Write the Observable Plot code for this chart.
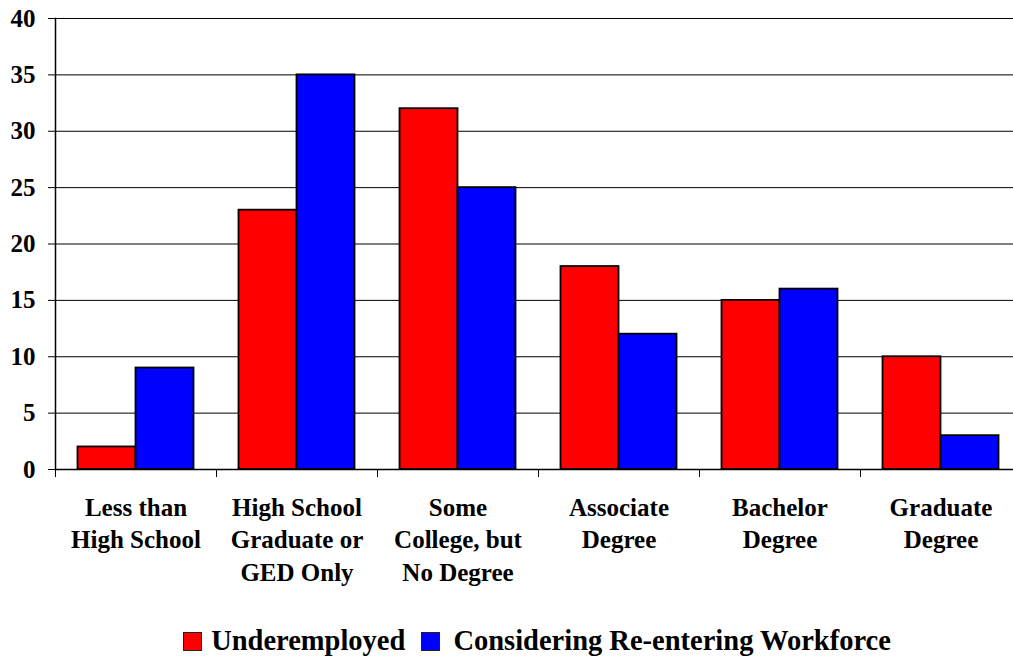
<!DOCTYPE html>
<html>
<head>
<meta charset="utf-8">
<script src="https://cdn.jsdelivr.net/npm/d3@7"></script>
<script src="https://cdn.jsdelivr.net/npm/@observablehq/plot@0.6"></script>
<style>
  html, body { margin: 0; padding: 0; background: #fff; }
  #chart { width: 1013px; height: 657px; overflow: hidden; position: relative; }
  .legend {
    display: flex; align-items: center; justify-content: center;
    width: 1013px; box-sizing: border-box; padding-left: 61px;
    margin-top: 15px;
    font-family: "Liberation Serif", "Times New Roman", serif;
    font-weight: bold; font-size: 28.5px; color: #000; line-height: 32px;
  }
  .legend .sw { width: 17px; height: 17px; border: 1px solid #222; }
  .legend .item { display: flex; align-items: center; }
</style>
</head>
<body>
<div id="chart"></div>
<script>
const categories = [
  "Less than\nHigh School",
  "High School\nGraduate or\nGED Only",
  "Some\nCollege, but\nNo Degree",
  "Associate\nDegree",
  "Bachelor\nDegree",
  "Graduate\nDegree"
];
const underemployed = [2, 23, 32, 18, 15, 10];
const reentering = [9, 35, 25, 12, 16, 3];
const seriesNames = ["Underemployed", "Considering Re-entering Workforce"];
const seriesColors = ["#ff0000", "#0000ff"];
const yTicks = [0, 5, 10, 15, 20, 25, 30, 35, 40];

const rowsU = categories.map((c, i) => ({category: c, value: underemployed[i]}));
const rowsR = categories.map((c, i) => ({category: c, value: reentering[i]}));

const W = 1013, H = 610;
const mL = 55;
const band = 161;

const chart = Plot.plot({
  width: W,
  height: H,
  marginTop: 18,
  marginBottom: 141,
  marginLeft: mL,
  marginRight: 0,
  style: {
    fontFamily: "'Liberation Serif', 'Times New Roman', serif",
    fontWeight: "bold",
    fontSize: "25px",
    color: "#000",
    background: "#fff",
    overflow: "hidden"
  },
  x: {domain: categories, range: [mL, mL + band * categories.length], padding: 0, axis: null},
  y: {domain: [0, 40], axis: null},
  marks: [
    Plot.ruleY(yTicks.slice(1), {stroke: "#000", strokeWidth: 1}),
    Plot.barY(rowsU, {x: "category", y: "value", fill: seriesColors[0], stroke: "#000", strokeWidth: 1.8, insetLeft: 22.5, insetRight: 80.5}),
    Plot.barY(rowsR, {x: "category", y: "value", fill: seriesColors[1], stroke: "#000", strokeWidth: 1.8, insetLeft: 80.5, insetRight: 22.5}),
    Plot.ruleY([0], {stroke: "#000", strokeWidth: 1.5}),
    Plot.frame({anchor: "left", stroke: "#000", strokeWidth: 1.5}),
    Plot.axisY({ticks: yTicks, tickSize: 7, tickPadding: 13, fontSize: 25, tickFormat: d => String(d), stroke: "#000", label: null}),
    Plot.axisX({tickSize: 8, tickFormat: () => "", dx: -band / 2, stroke: "#000", label: null}),
    Plot.axisX({tickSize: 0, tickPadding: 23, fontSize: 25, lineHeight: 1.3, label: null})
  ]
});
document.getElementById("chart").appendChild(chart);

const legend = document.createElement("div");
legend.className = "legend";
const gaps = [[9, 16], [13, 0]];
seriesNames.forEach((name, i) => {
  const item = document.createElement("div");
  item.className = "item";
  item.style.marginRight = gaps[i][1] + "px";
  const sw = document.createElement("span");
  sw.className = "sw";
  sw.style.background = seriesColors[i];
  sw.style.marginRight = gaps[i][0] + "px";
  const t = document.createElement("span");
  t.textContent = name;
  item.appendChild(sw);
  item.appendChild(t);
  legend.appendChild(item);
});
document.getElementById("chart").appendChild(legend);
</script>
</body>
</html>
